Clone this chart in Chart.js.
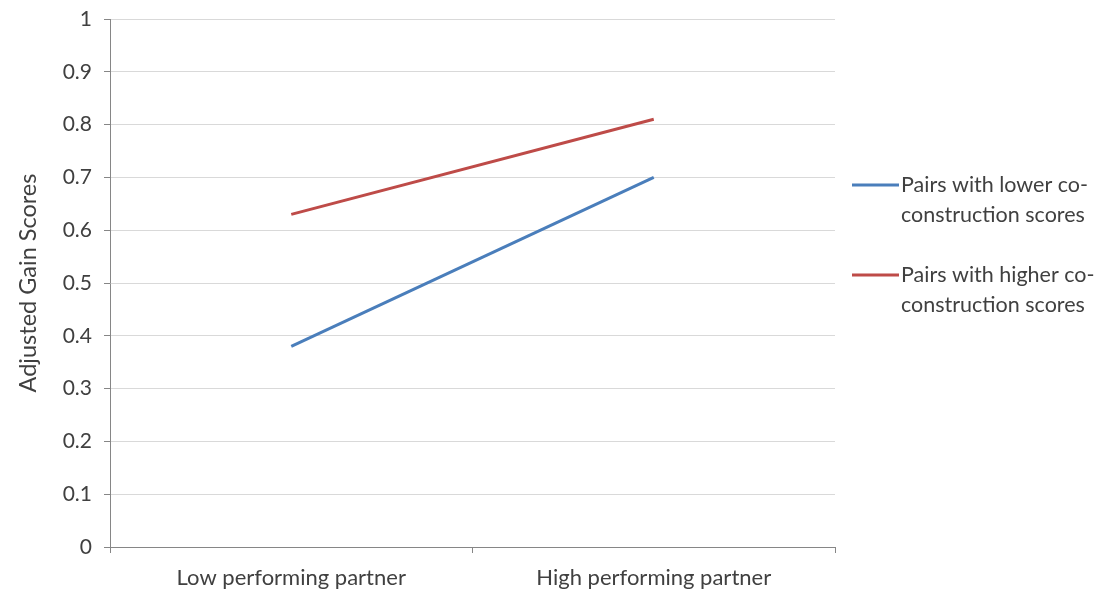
<!DOCTYPE html>
<html>
<head>
<meta charset="utf-8">
<script src="https://cdn.jsdelivr.net/npm/chart.js@4"></script>
<style>
html,body{margin:0;padding:0;background:#fff;}
#wrap{width:1102px;height:594px;position:relative;}
</style>
</head>
<body>
<div id="wrap"><canvas id="c" width="1102" height="594"></canvas></div>
<script>
const categories = ["Low performing partner", "High performing partner"];
const seriesLabels = ["Pairs with lower co-\nconstruction scores", "Pairs with higher co-\nconstruction scores"];
const lowerScores = [0.38, 0.70];
const higherScores = [0.63, 0.81];
const yTicks = [0, 0.1, 0.2, 0.3, 0.4, 0.5, 0.6, 0.7, 0.8, 0.9, 1];
const seriesColors = ["#4a7ebb", "#be4b48"];

const FONT = "Lato";
const legendPlugin = {
  id: 'sideLegend',
  afterDraw(chart) {
    const ctx = chart.ctx;
    const area = chart.chartArea;
    const x0 = area.right + 17;
    const startY = 185;
    const gap = 90;
    ctx.save();
    chart.data.datasets.forEach((ds, i) => {
      const y = startY + i * gap;
      ctx.strokeStyle = ds.borderColor;
      ctx.lineWidth = 3;
      ctx.beginPath();
      ctx.moveTo(x0, y);
      ctx.lineTo(x0 + 47, y);
      ctx.stroke();
      ctx.fillStyle = "#404040";
      ctx.font = "21.5px " + FONT;
      ctx.textBaseline = "middle";
      ctx.textAlign = "left";
      ds.label.split("\n").forEach((t, j) => {
        ctx.fillText(t, x0 + 49, y + j * 30);
      });
    });
    ctx.restore();
  }
};

new Chart(document.getElementById('c'), {
  type: 'line',
  data: {
    labels: categories,
    datasets: [
      { label: seriesLabels[0], data: lowerScores, borderColor: seriesColors[0], backgroundColor: seriesColors[0], borderWidth: 3, pointRadius: 0, tension: 0 },
      { label: seriesLabels[1], data: higherScores, borderColor: seriesColors[1], backgroundColor: seriesColors[1], borderWidth: 3, pointRadius: 0, tension: 0 }
    ]
  },
  options: {
    responsive: false,
    animation: false,
    layout: { padding: { top: 19, right: 267, left: 0, bottom: 0 } },
    plugins: { legend: { display: false }, tooltip: { enabled: false } },
    scales: {
      x: {
        offset: true,
        grid: { display: true, drawOnChartArea: false, drawTicks: true, tickLength: 6, color: "#868686", offset: true },
        border: { display: true, color: "#868686", width: 1 },
        ticks: { color: "#404040", font: { family: FONT, size: 22 }, padding: 12, maxRotation: 0 },
        afterFit(s) { s.height = 594 - 547; s.paddingLeft = 0; s.paddingRight = 0; }
      },
      y: {
        min: 0, max: 1,
        afterBuildTicks(s) { s.ticks = yTicks.map(v => ({ value: v })); },
        grid: { color: "#d9d9d9", tickColor: "#868686", tickLength: 6, drawTicks: true },
        border: { display: true, color: "#868686", width: 1 },
        ticks: { color: "#404040", font: { family: FONT, size: 21 }, padding: 12, callback: v => String(v) },
        title: { display: true, text: "Adjusted Gain Scores", color: "#404040", font: { family: FONT, size: 23.5 }, padding: { top: 14, bottom: 0 } },
        afterFit(s) { s.width = 110; s.paddingTop = 0; s.paddingBottom = 0; }
      }
    }
  },
  plugins: [legendPlugin]
});
</script>
</body>
</html>
